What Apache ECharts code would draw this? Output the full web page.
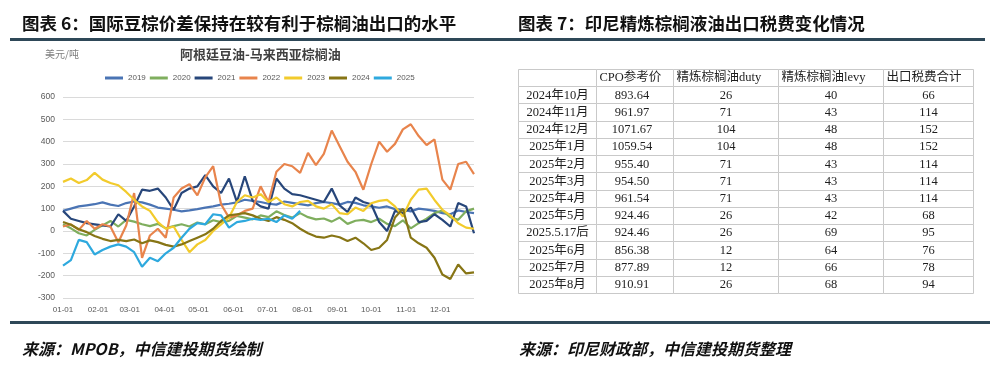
<!DOCTYPE html>
<html><head><meta charset="utf-8">
<script src="https://cdn.jsdelivr.net/npm/echarts@6/dist/echarts.min.js"></script>
<style>html,body{margin:0;padding:0;background:#fff}#c{width:1000px;height:376px}</style>
</head><body><div id="c"></div>
<script>
// ---------- Left chart data ----------
const years = ['2019','2020','2021','2022','2023','2024','2025'];
const monthTicks = ['01-01','02-01','03-01','04-01','05-01','06-01','07-01','08-01','09-01','10-01','11-01','12-01'];
const dates = ['01-01','01-08','01-15','01-22','01-29','02-05','02-12','02-19','02-26','03-05','03-12','03-19','03-26',
  '04-02','04-09','04-16','04-23','04-30','05-07','05-14','05-21','05-28','06-04','06-11','06-18','06-25',
  '07-02','07-09','07-16','07-23','07-30','08-06','08-13','08-20','08-27','09-03','09-10','09-17','09-24',
  '10-01','10-08','10-15','10-22','10-29','11-05','11-12','11-19','11-26','12-03','12-10','12-17','12-24','12-31'];
const v2019 = [90,100,110,115,120,128,118,112,125,132,128,118,105,100,95,88,92,98,105,110,118,122,128,140,135,130,122,118,132,126,120,115,125,130,125,118,130,126,115,110,104,110,98,95,88,100,96,90,80,75,92,85,80];
const v2020 = [30,12,-10,-20,5,25,45,20,50,42,30,22,32,12,22,30,20,38,30,48,40,45,68,60,52,70,62,88,72,60,80,62,52,56,42,60,32,46,50,40,55,32,22,48,12,35,55,80,92,62,50,88,100];
const v2021 = [90,55,45,35,30,25,20,75,45,110,185,180,190,150,95,170,190,200,250,200,170,235,130,245,135,110,100,235,190,165,160,150,140,130,190,115,85,150,130,120,40,0,90,80,105,40,45,75,50,20,125,110,-10];
const v2022 = [20,30,5,45,10,30,20,-50,25,170,-120,-20,10,-30,150,190,210,160,240,290,120,60,70,90,100,200,130,265,300,290,260,350,295,345,450,380,310,265,185,300,400,355,390,455,478,425,385,410,230,185,300,310,255];
const v2023 = [220,235,215,228,260,230,215,205,175,140,110,90,40,10,20,-40,-95,-60,-40,0,30,60,130,160,150,165,130,150,120,110,130,135,110,100,120,80,75,105,90,124,135,139,110,65,140,185,190,139,95,70,35,15,10];
const v2024 = [40,28,8,-5,-22,-35,-45,-40,-45,-38,-55,-42,-50,-62,-70,-60,-45,-30,-15,10,45,70,75,80,70,55,45,62,50,35,10,-10,-25,-30,-20,-28,-45,-30,-55,-85,-75,-40,60,100,-30,-55,-75,-120,-195,-215,-150,-190,-185];
const v2025 = [-155,-130,-40,-50,-105,-85,-70,-60,-70,-95,-160,-120,-135,-100,-75,-30,10,35,30,75,70,15,40,45,55,50,55,40,70,55,90];
const seriesValues = [v2019,v2020,v2021,v2022,v2023,v2024,v2025];
const yTicks = [-300,-200,-100,0,100,200,300,400,500,600];

// ---------- Right table data ----------
const tableHeaders = ['', 'CPO参考价', '精炼棕榈油duty', '精炼棕榈油levy', '出口税费合计'];
const tableMonths = ['2024年10月','2024年11月','2024年12月','2025年1月','2025年2月','2025年3月','2025年4月','2025年5月','2025.5.17后','2025年6月','2025年7月','2025年8月'];
const cpoPrice = [893.64,961.97,1071.67,1059.54,955.40,954.50,961.54,924.46,924.46,856.38,877.89,910.91];
const dutyVals = [26,71,104,104,71,71,71,26,26,12,12,26];
const levyVals = [40,43,48,48,43,43,43,42,69,64,66,68];
const totalVals = [66,114,152,152,114,114,114,68,95,76,78,94];

// ---------- layout / style ----------
const palette = ['#4A74B4','#7FAE5E','#27467A','#E8844C','#F2CB2C','#877515','#2EA9DE'];
const colWidths = [78,77,105,105,90];
const colTextShift = [0,-3,0,0,0];
const colEdges = [0];
colWidths.forEach(w => colEdges.push(colEdges[colEdges.length-1] + w));
const tableWidth = colEdges[colEdges.length-1];

// x categories: every day of a (non-leap) year as MM-DD
const monthLen = [31,28,31,30,31,30,31,31,30,31,30,31];
const dayCats = [];
monthLen.forEach((n, m) => { for (let d = 1; d <= n; d++) dayCats.push(String(m+1).padStart(2,'0') + '-' + String(d).padStart(2,'0')); });

// table cells
const rowKeys = ['header'].concat(tableMonths);
const cells = [];
tableHeaders.forEach((t, c) => cells.push({r:0, c, text:t, header:true}));
tableMonths.forEach((m, i) => {
  const row = [m, cpoPrice[i].toFixed(2), String(dutyVals[i]), String(levyVals[i]), String(totalVals[i])];
  row.forEach((t, c) => cells.push({r:i+1, c, text:t, header:false}));
});

const FONT = 'Liberation Sans, Noto Sans CJK SC, sans-serif';
const CJK = 'Noto Sans CJK SC, sans-serif';
const SERIF = 'Liberation Serif, Noto Sans CJK SC, serif';

function renderCell(params, api) {
  const cell = cells[params.dataIndex];
  const p0 = api.coord([colEdges[cell.c], cell.r]);
  const p1 = api.coord([colEdges[cell.c+1], cell.r]);
  const h = api.size([0, 1])[1];
  const x0 = Math.round(p0[0]) + 0.5, x1 = Math.round(p1[0]) + 0.5;
  const yc = p0[1];
  const y0 = Math.round(yc - h/2) + 0.5;
  const y1 = Math.round(yc + h/2) + 0.5;
  const tx = cell.header ? x0 + 3 : (x0 + x1)/2 + colTextShift[cell.c];
  return {
    type: 'group',
    children: [
      {type:'rect', shape:{x:x0, y:y0, width:x1-x0, height:y1-y0}, style:{fill:'#fff', stroke:'#C9C9C9', lineWidth:1}},
      {type:'text', style:{text:cell.text, x:tx, y:yc+0.5, align: cell.header ? 'left' : 'center', verticalAlign:'middle',
        fontSize:12.5, fontFamily:SERIF, fill:'#1E1E1E'}}
    ]
  };
}

const lineSeries = years.map((y, i) => ({
  name: y, type: 'line', xAxisIndex: 0, yAxisIndex: 0,
  data: seriesValues[i].map((v, k) => [dates[k], v]),
  showSymbol: false, symbol: 'none',
  lineStyle: {width: 2.2, color: palette[i]}, itemStyle: {color: palette[i]},
  smooth: false
}));

const option = {
  animation: false,
  backgroundColor: '#fff',
  textStyle: {fontFamily: FONT},
  title: [
    {text:'图表 6：国际豆棕价差保持在较有利于棕榈油出口的水平', left:22, top:15, padding:0,
      textStyle:{fontSize:17.5, fontWeight:'bold', color:'#111', fontFamily:CJK}},
    {text:'图表 7：印尼精炼棕榈液油出口税费变化情况', left:518, top:15, padding:0,
      textStyle:{fontSize:17.5, fontWeight:'bold', color:'#111', fontFamily:CJK}},
    {text:'阿根廷豆油-马来西亚棕榈油', left:180, top:48, padding:0,
      textStyle:{fontSize:13, fontWeight:'bold', color:'#404040', fontFamily:CJK}},
    {text:'美元/吨', left:45, top:49, padding:0,
      textStyle:{fontSize:10, fontWeight:'normal', color:'#7F7F7F', fontFamily:CJK}},
    {text:'来源：MPOB，中信建投期货绘制', left:22, top:341, padding:0,
      textStyle:{fontSize:16, fontWeight:'bold', fontStyle:'italic', color:'#111', fontFamily:CJK}},
    {text:'来源：印尼财政部，中信建投期货整理', left:519, top:341, padding:0,
      textStyle:{fontSize:16, fontWeight:'bold', fontStyle:'italic', color:'#111', fontFamily:CJK}}
  ],
  legend: {
    data: years, left: 105, top: 74, padding: 0,
    icon: 'rect', itemWidth: 18, itemHeight: 3, itemGap: 4,
    textStyle: {fontSize: 8, color: '#595959', fontFamily: FONT}
  },
  graphic: [
    {type:'rect', silent:true, shape:{x:10, y:38, width:975, height:3}, style:{fill:'#2E4858'}},
    {type:'rect', silent:true, shape:{x:10, y:321, width:980, height:3}, style:{fill:'#2E4858'}}
  ],
  grid: [
    {left:63, top:97, width:411, height:201, containLabel:false},
    {left:518, top:69, width:tableWidth, height:224, containLabel:false}
  ],
  xAxis: [
    {type:'category', gridIndex:0, data: dayCats, boundaryGap:false,
      axisLine:{show:false}, axisTick:{show:false},
      axisLabel:{interval:(idx, val) => monthTicks.indexOf(val) >= 0, fontSize:8, color:'#595959', margin:8, fontFamily:FONT},
      splitLine:{show:false}},
    {type:'value', gridIndex:1, min:0, max:tableWidth, show:false}
  ],
  yAxis: [
    {type:'value', gridIndex:0, min:yTicks[0], max:yTicks[yTicks.length-1], interval:100,
      axisLine:{show:false}, axisTick:{show:false},
      axisLabel:{fontSize:8.5, color:'#595959', margin:8, fontFamily:FONT},
      splitLine:{lineStyle:{color:'#DADADA', width:1}}},
    {type:'category', gridIndex:1, data: rowKeys, inverse:true, show:false}
  ],
  series: lineSeries.concat([{
    type:'custom', xAxisIndex:1, yAxisIndex:1, silent:true, clip:false,
    renderItem: renderCell,
    data: cells.map(c => [c.c, c.r]),
    z: 1
  }])
};

const chart = echarts.init(document.getElementById('c'), null, {renderer:'canvas'});
chart.setOption(option);
</script>
</body></html>
